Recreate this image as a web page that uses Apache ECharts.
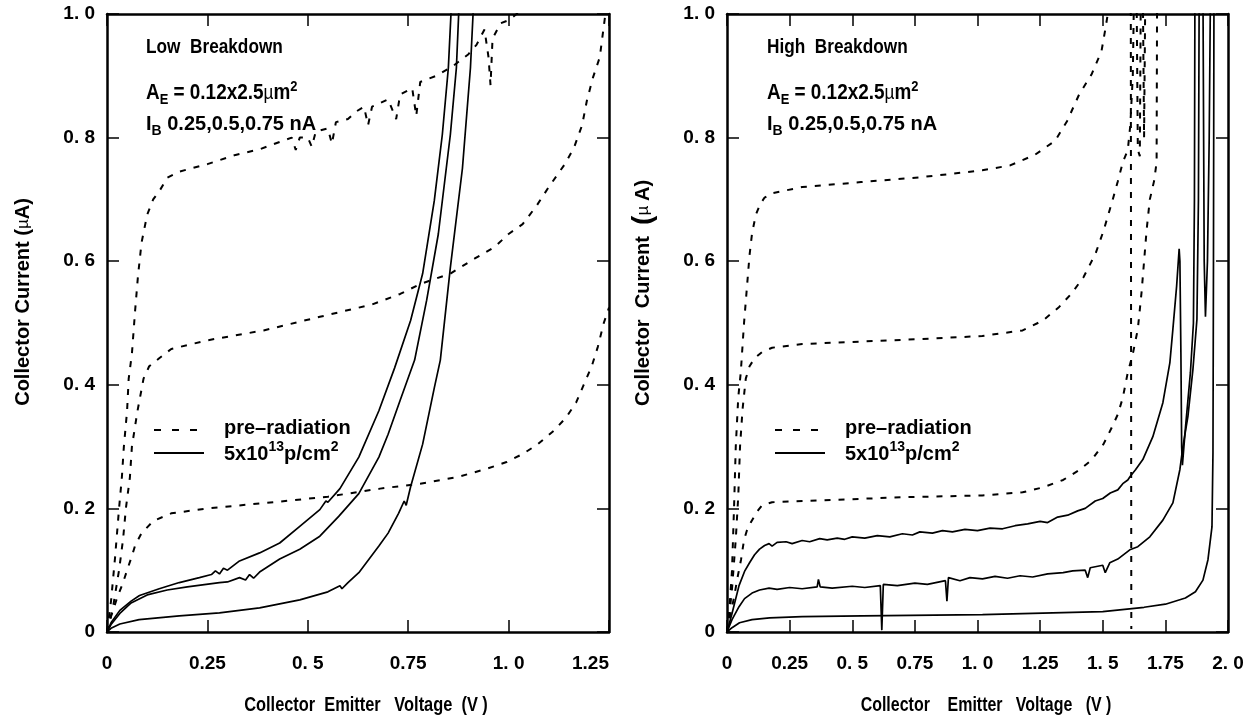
<!DOCTYPE html>
<html><head><meta charset="utf-8">
<script src="https://cdn.jsdelivr.net/npm/echarts@6/dist/echarts.min.js"></script>
<style>html,body{margin:0;padding:0;background:#fff}#c{width:1250px;height:720px}</style>
</head><body><div id="c"></div>
<script>
// ---------- tick labels ----------
const lowXTicks = ['0','0.25','0. 5','0.75','1. 0','1.25'];
const highXTicks = ['0','0.25','0. 5','0.75','1. 0','1.25','1. 5','1.75','2. 0'];
const yTicks = ['0','0. 2','0. 4','0. 6','0. 8','1. 0'];

// ---------- Low breakdown panel: [V, I(uA)] ----------
const lowPre075 = [[0,0],[0.01,0.05],[0.02,0.12],[0.03,0.2],[0.037,0.25],[0.042,0.3],[0.05,0.358],[0.054,0.41],[0.062,0.45],[0.07,0.52],[0.077,0.575],[0.086,0.63],[0.1,0.675],[0.115,0.7],[0.131,0.714],[0.15,0.735],[0.18,0.745],[0.25,0.757],[0.32,0.772],[0.38,0.781],[0.43,0.793],[0.46,0.8],[0.47,0.78],[0.48,0.8],[0.5,0.8],[0.51,0.785],[0.52,0.81],[0.55,0.815],[0.56,0.79],[0.57,0.825],[0.6,0.83],[0.62,0.842],[0.64,0.85],[0.65,0.82],[0.66,0.85],[0.7,0.862],[0.72,0.83],[0.73,0.87],[0.76,0.88],[0.77,0.835],[0.78,0.89],[0.8,0.895],[0.82,0.9],[0.86,0.915],[0.9,0.935],[0.92,0.95],[0.94,0.975],[0.95,0.93],[0.955,0.885],[0.96,0.96],[0.98,0.985],[1.0,0.99],[1.02,1.0],[1.05,1.03]];
const lowPre050 = [[0,0],[0.015,0.04],[0.03,0.1],[0.04,0.15],[0.047,0.2],[0.057,0.25],[0.062,0.3],[0.076,0.358],[0.091,0.41],[0.105,0.43],[0.13,0.443],[0.16,0.458],[0.25,0.472],[0.39,0.488],[0.53,0.51],[0.66,0.53],[0.73,0.547],[0.78,0.563],[0.855,0.58],[0.915,0.604],[0.965,0.623],[1.0,0.644],[1.035,0.66],[1.07,0.69],[1.1,0.72],[1.14,0.757],[1.163,0.784],[1.183,0.82],[1.195,0.86],[1.21,0.897],[1.227,0.93],[1.237,0.98],[1.245,1.02]];
const lowPre025 = [[0,0],[0.01,0.025],[0.025,0.055],[0.04,0.08],[0.05,0.1],[0.062,0.123],[0.07,0.14],[0.086,0.16],[0.116,0.18],[0.16,0.192],[0.25,0.2],[0.43,0.211],[0.55,0.219],[0.68,0.232],[0.78,0.24],[0.875,0.251],[0.945,0.264],[0.995,0.275],[1.035,0.288],[1.073,0.304],[1.113,0.326],[1.143,0.347],[1.168,0.371],[1.187,0.4],[1.207,0.43],[1.222,0.461],[1.237,0.5],[1.25,0.525]];
const lowRad075 = [[0,0],[0.01,0.015],[0.032,0.035],[0.06,0.05],[0.081,0.059],[0.13,0.07],[0.18,0.08],[0.23,0.088],[0.26,0.093],[0.27,0.099],[0.28,0.094],[0.29,0.103],[0.3,0.1],[0.33,0.115],[0.38,0.128],[0.43,0.144],[0.48,0.171],[0.53,0.198],[0.545,0.212],[0.55,0.21],[0.58,0.232],[0.627,0.283],[0.677,0.358],[0.716,0.427],[0.756,0.504],[0.786,0.58],[0.815,0.698],[0.835,0.805],[0.85,0.913],[0.858,1.02]];
const lowRad050 = [[0,0],[0.01,0.012],[0.032,0.03],[0.06,0.047],[0.1,0.06],[0.15,0.068],[0.2,0.073],[0.28,0.08],[0.3,0.081],[0.33,0.088],[0.345,0.084],[0.355,0.093],[0.365,0.087],[0.38,0.097],[0.43,0.118],[0.48,0.134],[0.53,0.155],[0.577,0.187],[0.627,0.224],[0.677,0.283],[0.7,0.32],[0.73,0.375],[0.766,0.44],[0.796,0.537],[0.825,0.644],[0.855,0.805],[0.87,0.913],[0.877,1.02]];
const lowRad025 = [[0,0],[0.01,0.006],[0.032,0.013],[0.08,0.02],[0.18,0.026],[0.28,0.031],[0.38,0.039],[0.48,0.052],[0.55,0.065],[0.58,0.075],[0.585,0.07],[0.6,0.08],[0.627,0.096],[0.677,0.139],[0.7,0.16],[0.726,0.192],[0.74,0.212],[0.745,0.205],[0.756,0.235],[0.786,0.304],[0.815,0.395],[0.83,0.44],[0.855,0.59],[0.885,0.75],[0.905,0.913],[0.913,1.02]];

// ---------- High breakdown panel: [V, I(uA)] ----------
const highPre075 = [[0,0],[0.01,0.04],[0.02,0.1],[0.028,0.2],[0.035,0.3],[0.045,0.38],[0.055,0.42],[0.068,0.5],[0.08,0.56],[0.09,0.61],[0.1,0.645],[0.115,0.675],[0.132,0.692],[0.15,0.703],[0.18,0.71],[0.3,0.72],[0.535,0.728],[0.777,0.736],[1.019,0.747],[1.13,0.755],[1.229,0.772],[1.31,0.795],[1.358,0.827],[1.406,0.87],[1.455,0.902],[1.495,0.94],[1.511,0.977],[1.52,1.0],[1.54,1.04],[1.6,1.04],[1.612,1.0],[1.613,0.5],[1.614,0.005]];
const highPre050 = [[0,0],[0.01,0.03],[0.02,0.07],[0.035,0.15],[0.045,0.22],[0.052,0.3],[0.062,0.36],[0.075,0.41],[0.09,0.43],[0.11,0.443],[0.14,0.453],[0.18,0.46],[0.3,0.466],[0.535,0.47],[0.777,0.474],[1.019,0.479],[1.18,0.488],[1.261,0.504],[1.326,0.526],[1.374,0.547],[1.423,0.574],[1.471,0.612],[1.503,0.649],[1.54,0.7],[1.56,0.729],[1.58,0.76],[1.6,0.78],[1.61,0.82],[1.62,0.9],[1.625,1.04],[1.635,1.04],[1.64,0.78],[1.648,0.77],[1.652,1.04],[1.66,1.04],[1.665,0.8],[1.67,1.04]];
const highPre025 = [[0,0],[0.015,0.03],[0.03,0.06],[0.04,0.084],[0.056,0.117],[0.068,0.149],[0.08,0.165],[0.096,0.178],[0.12,0.195],[0.14,0.205],[0.18,0.21],[0.374,0.213],[0.697,0.218],[1.019,0.221],[1.18,0.226],[1.261,0.234],[1.342,0.246],[1.406,0.262],[1.455,0.278],[1.503,0.304],[1.535,0.33],[1.56,0.352],[1.58,0.379],[1.6,0.42],[1.62,0.45],[1.64,0.49],[1.655,0.55],[1.665,0.6],[1.675,0.65],[1.688,0.7],[1.705,0.73],[1.715,0.76],[1.716,0.9],[1.717,1.04]];
const highRad075 = [[0,0],[0.02,0.03],[0.048,0.075],[0.07,0.098],[0.09,0.112],[0.11,0.125],[0.13,0.134],[0.15,0.14],[0.168,0.143],[0.18,0.139],[0.2,0.145],[0.236,0.146],[0.26,0.143],[0.3,0.148],[0.33,0.146],[0.37,0.151],[0.4,0.149],[0.44,0.152],[0.47,0.15],[0.5,0.154],[0.55,0.152],[0.6,0.156],[0.65,0.154],[0.7,0.159],[0.74,0.157],[0.77,0.162],[0.82,0.16],[0.86,0.164],[0.9,0.162],[0.95,0.166],[1.0,0.164],[1.05,0.168],[1.1,0.167],[1.15,0.172],[1.2,0.175],[1.25,0.179],[1.28,0.177],[1.32,0.186],[1.36,0.189],[1.4,0.196],[1.43,0.2],[1.47,0.212],[1.5,0.216],[1.53,0.225],[1.56,0.23],[1.58,0.24],[1.6,0.246],[1.61,0.252],[1.63,0.262],[1.66,0.279],[1.7,0.316],[1.74,0.371],[1.768,0.436],[1.78,0.49],[1.795,0.56],[1.805,0.62],[1.808,0.6],[1.812,0.45],[1.815,0.3],[1.818,0.27],[1.83,0.33],[1.85,0.42],[1.862,0.5],[1.866,0.7],[1.868,1.04]];
const highRad050 = [[0,0],[0.02,0.02],[0.048,0.041],[0.07,0.054],[0.1,0.063],[0.13,0.068],[0.168,0.071],[0.2,0.069],[0.25,0.072],[0.3,0.07],[0.36,0.073],[0.365,0.085],[0.372,0.073],[0.42,0.071],[0.5,0.074],[0.55,0.072],[0.612,0.075],[0.618,0.003],[0.624,0.077],[0.68,0.075],[0.75,0.079],[0.8,0.077],[0.872,0.083],[0.878,0.05],[0.884,0.088],[0.93,0.083],[0.97,0.088],[1.02,0.086],[1.07,0.09],[1.12,0.087],[1.17,0.091],[1.22,0.089],[1.28,0.094],[1.342,0.096],[1.38,0.099],[1.43,0.1],[1.44,0.088],[1.45,0.104],[1.5,0.108],[1.51,0.096],[1.528,0.112],[1.56,0.118],[1.608,0.133],[1.64,0.138],[1.688,0.154],[1.74,0.181],[1.78,0.209],[1.808,0.263],[1.82,0.3],[1.84,0.349],[1.86,0.425],[1.876,0.506],[1.882,0.7],[1.885,1.04],[1.9,1.04],[1.905,0.6],[1.91,0.51],[1.918,0.6],[1.925,0.8],[1.93,1.04]];
const highRad025 = [[0,0],[0.02,0.007],[0.05,0.015],[0.1,0.02],[0.17,0.023],[0.3,0.025],[0.54,0.026],[1.02,0.028],[1.5,0.033],[1.665,0.04],[1.75,0.045],[1.83,0.055],[1.87,0.065],[1.9,0.084],[1.92,0.117],[1.936,0.17],[1.94,0.29],[1.942,0.6],[1.944,1.04]];

// ---------- styling / layout ----------
const F = '"Liberation Sans", Arial, Helvetica, sans-serif';
const G = [{left:107, top:14, width:502, height:618},{left:727, top:14, width:501, height:618}];
const lineAx = {lineStyle:{color:'#000', width:2.5}, onZero:false};
const tickAx = {inside:true, length:12, lineStyle:{color:'#000', width:1.5}};
const lblStyle = {fontSize:19, fontWeight:'bold', color:'#000', fontFamily:F};

function xPair(gi, max, labels, alignMax){
  return [
    {gridIndex:gi, type:'value', min:0, max:max, interval:0.25, position:'bottom', axisLine:lineAx, axisTick:tickAx, splitLine:{show:false},
     axisLabel:Object.assign({margin:22, showMinLabel:true, showMaxLabel:true, alignMaxLabel:alignMax, formatter:v=>labels[Math.round(v/0.25)]}, lblStyle)},
    {gridIndex:gi, type:'value', min:0, max:max, interval:0.25, position:'top', axisLine:lineAx, axisTick:tickAx, splitLine:{show:false}, axisLabel:{show:false}}
  ];
}
function yPair(gi){
  return [
    {gridIndex:gi, type:'value', min:0, max:1, interval:0.2, position:'left', axisLine:lineAx, axisTick:tickAx, splitLine:{show:false},
     axisLabel:Object.assign({margin:12, showMinLabel:true, showMaxLabel:true, formatter:v=>yTicks[Math.round(v/0.2)]}, lblStyle)},
    {gridIndex:gi, type:'value', min:0, max:1, interval:0.2, position:'right', axisLine:lineAx, axisTick:tickAx, splitLine:{show:false}, axisLabel:{show:false}}
  ];
}
function ser(data, axis, dashed){
  return {type:'line', data:data, xAxisIndex:axis, yAxisIndex:axis, symbol:'none', showSymbol:false, clip:true, silent:true,
    lineStyle:{color:'#000', width: dashed ? 2 : 1.7, type: dashed ? [6,8] : 'solid'}};
}

const txt = {fill:'#000'};
const richN = {
  b:{fontSize:22, fontWeight:'bold', fontFamily:F, lineHeight:28, verticalAlign:'middle'},
  s:{fontSize:15, fontWeight:'bold', fontFamily:F, lineHeight:14, verticalAlign:'bottom'},
  u:{fontSize:15, fontWeight:'bold', fontFamily:F, lineHeight:14, verticalAlign:'top'},
  m:{fontSize:20, fontWeight:'normal', fontFamily:F, lineHeight:28, verticalAlign:'middle'}
};
const richW = {
  b:{fontSize:20, fontWeight:'bold', fontFamily:F, lineHeight:28, verticalAlign:'middle'},
  s:{fontSize:14, fontWeight:'bold', fontFamily:F, lineHeight:14, verticalAlign:'bottom'},
  u:{fontSize:14, fontWeight:'bold', fontFamily:F, lineHeight:14, verticalAlign:'top'}
};
function annot(x, title){
  return [
    {type:'text', x:x, y:47, scaleX:0.82, style:Object.assign({text:title, fontSize:21, fontWeight:'bold', fontFamily:F, verticalAlign:'middle'}, txt)},
    {type:'text', x:x, y:93, scaleX:0.86, style:Object.assign({text:'{b|A}{s|E}{b| = 0.12x2.5}{m|µ}{b|m}{u|2}', rich:richN, verticalAlign:'middle'}, txt)},
    {type:'text', x:x, y:124, style:Object.assign({text:'{b|I}{s|B}{b| 0.25,0.5,0.75 nA}', rich:richW, verticalAlign:'middle'}, txt)},
    {type:'line', shape:{x1:x+8, y1:430, x2:x+53, y2:430}, style:{stroke:'#000', lineWidth:2, lineDash:[7,11]}},
    {type:'line', shape:{x1:x+8, y1:453, x2:x+58, y2:453}, style:{stroke:'#000', lineWidth:2}},
    {type:'text', x:x+78, y:428, style:Object.assign({text:'pre–radiation', fontSize:20, fontWeight:'bold', fontFamily:F, verticalAlign:'middle'}, txt)},
    {type:'text', x:x+78, y:454, style:Object.assign({text:'{b|5x10}{u|13}{b|p/cm}{u|2}', rich:richW, verticalAlign:'middle'}, txt)}
  ];
}

const graphics = [].concat(
  annot(146, 'Low  Breakdown'),
  annot(767, 'High  Breakdown'),
  [
    {type:'text', x:23, y:302, rotation:Math.PI/2, style:Object.assign({text:'{t|Collector Current (}{m|µ}{t|A)}', align:'center', verticalAlign:'middle',
      rich:{t:{fontSize:20, fontWeight:'bold', fontFamily:F}, m:{fontSize:17, fontWeight:'normal', fontFamily:F}}}, txt)},
    {type:'text', x:643, y:293, rotation:Math.PI/2, style:Object.assign({text:'{t|Collector  Current  }{p|(}{m|µ }{t|A)}', align:'center', verticalAlign:'middle',
      rich:{t:{fontSize:20, fontWeight:'bold', fontFamily:F}, p:{fontSize:28, fontWeight:'bold', fontFamily:F}, m:{fontSize:17, fontWeight:'normal', fontFamily:F}}}, txt)},
    {type:'text', x:366, y:705, scaleX:0.78, style:Object.assign({text:'Collector  Emitter   Voltage  (V )', fontSize:21, fontWeight:'bold', fontFamily:F, align:'center', verticalAlign:'middle'}, txt)},
    {type:'text', x:986, y:705, scaleX:0.76, style:Object.assign({text:'Collector    Emitter   Voltage   (V )', fontSize:21, fontWeight:'bold', fontFamily:F, align:'center', verticalAlign:'middle'}, txt)}
  ]
);

const chart = echarts.init(document.getElementById('c'), null, {renderer:'canvas'});
chart.setOption({
  animation:false,
  backgroundColor:'#fff',
  grid:G,
  xAxis:[].concat(xPair(0,1.25,lowXTicks,'right'), xPair(1,2.0,highXTicks,'center')),
  yAxis:[].concat(yPair(0), yPair(1)),
  series:[
    ser(lowPre075,0,true), ser(lowPre050,0,true), ser(lowPre025,0,true),
    ser(lowRad075,0,false), ser(lowRad050,0,false), ser(lowRad025,0,false),
    ser(highPre075,2,true), ser(highPre050,2,true), ser(highPre025,2,true),
    ser(highRad075,2,false), ser(highRad050,2,false), ser(highRad025,2,false)
  ],
  graphic:graphics
});
</script></body></html>
